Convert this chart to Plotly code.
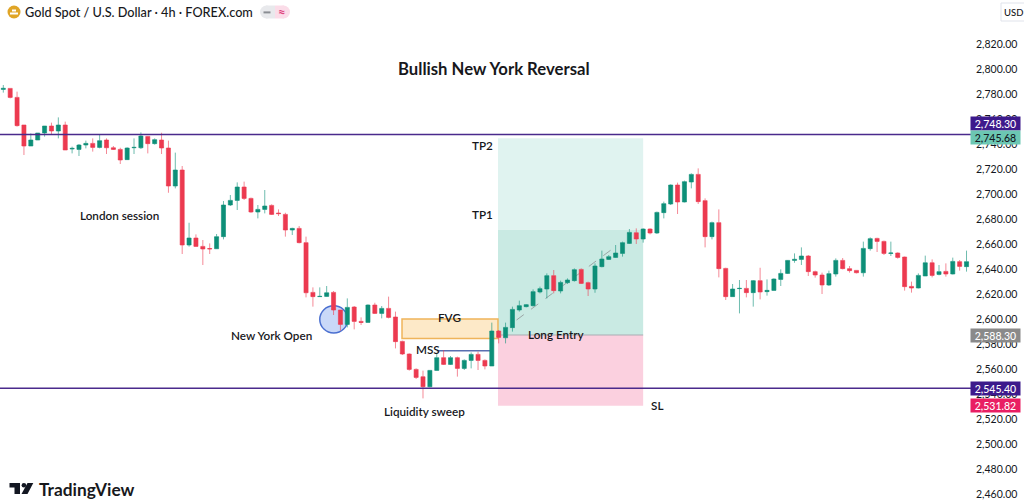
import plotly.graph_objects as go

candle_index = list(range(141))
open_prices = [
 2783.7,2784.5,2777.3,2755.2,2738.4,2743.2,2748.8,2754.4,2750.4,2755.2,
 2736,2735.7,2739.2,2740.5,2737.3,2743.2,2737,2735.7,2727.5,2737,
 2737,2746.1,2740.3,2743.2,2736.8,2706.4,2719.2,2659.2,2664.8,2658.1,
 2656.4,2656.2,2665.9,2691.2,2694.9,2705.6,2696.5,2685.6,2687.7,2690.9,
 2684.8,2683.7,2671.2,2672.5,2661.1,2621.3,2617.9,2618.1,2621.3,2607.2,
 2595.7,2609.6,2598.1,2597.3,2611.2,2604.5,2608.5,2601.6,2582.1,2572,
 2559.7,2553.8,2545.8,2558.9,2569.1,2563.7,2569.1,2560.5,2566.9,2571.7,
 2566.9,2562.4,2590.4,2585,2593.1,2607.2,2609.9,2610.7,2621.6,2624,
 2634.7,2622.4,2629.1,2630.7,2639.7,2629.1,2624,2641.9,2647.7,2649.3,
 2652.5,2660.5,2669,2664,2672,2668.8,2685.1,2692,2707.2,2693.6,
 2709.6,2715.7,2694.7,2665.9,2677.1,2640.5,2617.9,2624.3,2624.5,2621.1,
 2630.7,2621.9,2622.9,2631.7,2636.5,2646.9,2647.7,2650.4,2637.9,2635.2,
 2627.2,2636,2646.9,2640.3,2638.9,2637,2656.3,2664.5,2662.1,2652.5,
 2652.8,2649.6,2626.1,2624.8,2634.4,2645,2635.7,2638.1,2636,2645.9,
 2641.9]
high_prices = [
 2787.2,2784.5,2781.9,2755.2,2748.5,2748.8,2754.4,2757.1,2761.3,2757.9,
 2737.9,2740,2742.7,2744.5,2747.2,2744.5,2738.4,2737,2737.3,2744.5,
 2749.3,2746.4,2744.5,2749,2742.7,2733.1,2722.4,2677,2667.7,2663.2,
 2660.5,2668,2694.4,2699.2,2709.3,2709.9,2697.1,2691.2,2703.2,2691.7,
 2687.7,2685,2673,2674.4,2665.9,2625.3,2625.3,2626.4,2622.4,2607.2,
 2616.5,2610.4,2601.3,2611.7,2613,2610.4,2617.9,2605.9,2582.7,2572.5,
 2560.5,2558.7,2559.2,2572.5,2575.2,2570.4,2569.9,2567.7,2573.3,2573.9,
 2567.7,2597.1,2591.2,2597.1,2609.9,2614.7,2612,2623.7,2625.9,2636.5,
 2639.2,2630.7,2632.5,2640.5,2640.5,2629.9,2644.5,2654.7,2651.2,2659.2,
 2661.9,2672,2672.5,2672.5,2672.5,2685.9,2693.9,2707.7,2709.1,2710.7,
 2716.5,2720.5,2696.5,2677.9,2687.7,2641,2628,2631.2,2631.2,2631.2,
 2641,2631.7,2632.5,2639.7,2647.2,2652.5,2657.3,2651.2,2638.7,2637.1,
 2638.7,2648.5,2648.8,2642.4,2638.9,2661.9,2665.3,2665,2662.7,2661.9,
 2653.3,2649.9,2629.9,2636.5,2650.7,2647.7,2643.2,2644.5,2649.1,2647.2,
 2654.7]
low_prices = [
 2781.1,2776.5,2753.9,2731.2,2738.4,2743.2,2745.9,2747.7,2744.5,2735.2,
 2732.5,2730.4,2736.5,2733.9,2736.5,2732,2735.2,2724,2727.2,2732,
 2736,2732.5,2739.5,2732,2701,2704.5,2652,2657.9,2657.9,2643.2,
 2652,2656,2663.7,2690.4,2687.2,2695.2,2685,2680.5,2684.5,2683.2,
 2682.4,2665.9,2667.2,2660.5,2617.3,2609.9,2617.9,2617.9,2603.2,2590.7,
 2593.3,2591.7,2595.2,2597,2604,2600.5,2600.5,2576.5,2571.2,2558.7,
 2552,2536.5,2545.3,2558.7,2563.2,2563.2,2553.9,2559.2,2560.5,2559.2,
 2559.7,2562.4,2580.5,2580.5,2589.9,2605.9,2609.3,2609.9,2620.5,2616.5,
 2620.5,2620.5,2628,2629.9,2628,2618.4,2621,2641.3,2647.2,2649,
 2649.9,2660,2660,2661.1,2667.7,2668,2680.5,2691.2,2684,2693.3,
 2704.5,2692,2657.3,2663.7,2633.3,2615.2,2617.9,2604.5,2617.3,2609.9,
 2615.7,2618.7,2622.7,2626.4,2636,2645,2643.2,2634.4,2633.1,2620,
 2626.4,2633.9,2639.7,2637.1,2636.5,2633.9,2654.7,2653.6,2651.2,2650.4,
 2648.3,2622.7,2621.1,2624.5,2634.4,2633.3,2634.9,2633.9,2635.7,2638.7,
 2637.9]
close_prices = [
 2784.5,2777.3,2754.7,2738.4,2743.2,2748.8,2754.4,2750.4,2755.2,2735.2,
 2736.5,2739.2,2740.5,2737.3,2742.7,2737,2735.7,2727.2,2736.8,2737.3,
 2746.4,2740.3,2743.5,2736.8,2706.4,2719.2,2659.2,2664.8,2658.1,2656,
 2656.1,2665.9,2691.2,2694.9,2705.6,2696.5,2685.6,2687.7,2690.4,2683.7,
 2684.3,2671.2,2672.5,2661.1,2621,2617.9,2618.1,2621,2607.2,2595.7,
 2609.3,2598.1,2597.3,2611.2,2604.5,2608.5,2601.3,2581.9,2572,2559.7,
 2553.3,2545.8,2558.9,2569.1,2563.7,2569.1,2560.5,2566.9,2571.7,2566.9,
 2562.4,2590.4,2585.3,2593.3,2607.7,2610.7,2611.5,2621.9,2624.3,2634.7,
 2622.7,2629.3,2631.2,2639.5,2628.5,2624,2642.4,2648,2649.9,2652.8,
 2661.1,2669.3,2664,2672,2668.8,2685.3,2692.3,2707.2,2693.6,2709.9,
 2715.7,2693.9,2665.9,2677.1,2640.3,2617.9,2624,2624.5,2621.1,2630.7,
 2621.6,2622.9,2632,2636.5,2646.9,2647.7,2650.4,2637.9,2635.2,2627.2,
 2636.3,2646.9,2640.3,2638.7,2637,2656.5,2664.3,2662.1,2652.5,2652.8,
 2649.3,2625.9,2624.8,2634.9,2645,2634.9,2637.9,2636,2646.1,2642.1,
 2645.9]

tick_values = list(range(2460, 2821, 20))
# levels (drawn lines / zones)
upper_level = 2747.6
lower_level = 2544.6
entry_price = 2587.2
take_profit_1 = 2671.4
take_profit_2 = 2744.6
stop_loss = 2530.6
fvg_top = 2600.0
fvg_bottom = 2584.5
mss_price = 2574.6
zone_start = 71.9
zone_end = 93.0

W, PW = 1024, 971
GREEN = "#0d8f78"
RED = "#ec3a50"
FONT = "Lato"
INK = "#131722"

def px(x):
    return x / PW
def py(y):
    return 1 - y / 500

fig = go.Figure(go.Candlestick(
    x=candle_index, open=open_prices, high=high_prices, low=low_prices, close=close_prices,
    increasing=dict(fillcolor=GREEN, line=dict(color="rgba(13,143,120,0.6)", width=1)),
    decreasing=dict(fillcolor=RED, line=dict(color="rgba(236,58,80,0.6)", width=1)),
    whiskerwidth=0, showlegend=False, hoverinfo="skip"))

shapes = [
    dict(type="rect", x0=zone_start, x1=zone_end, y0=take_profit_1, y1=take_profit_2, fillcolor="#e0f3f0", line_width=0, layer="below"),
    dict(type="rect", x0=zone_start, x1=zone_end, y0=entry_price, y1=take_profit_1, fillcolor="#c9eae3", line_width=0, layer="below"),
    dict(type="rect", x0=zone_start, x1=zone_end, y0=stop_loss, y1=entry_price, fillcolor="#fbd0df", line_width=0, layer="below"),
    dict(type="line", x0=zone_start, x1=zone_end, y0=entry_price, y1=entry_price, line=dict(color="#a9adb3", width=1), layer="below"),
    dict(type="rect", x0=57.95, x1=71.9, y0=fvg_bottom, y1=fvg_top, fillcolor="#fde9c8", line=dict(color="#efb45a", width=1.5), layer="below"),
    dict(type="circle", x0=46.0, x1=50.06, y0=2588.8, y1=2610.6, fillcolor="#c9d8f8", line=dict(color="#4a6fd0", width=1.5), layer="below"),
    dict(type="line", x0=63, x1=71, y0=mss_price, y1=mss_price, line=dict(color="#5a6fb0", width=1.5), layer="below"),
    dict(type="line", x0=74.6, x1=89.3, y0=2599.2, y1=2659.2, line=dict(color="#9aa5a5", width=1, dash="dash"), layer="below"),
    dict(type="line", xref="paper", x0=0, x1=1, y0=upper_level, y1=upper_level, line=dict(color="#4a2a8c", width=1.5)),
    dict(type="line", xref="paper", x0=0, x1=1, y0=lower_level, y1=lower_level, line=dict(color="#4a2a8c", width=1.5)),
    # header symbol
    dict(type="circle", xref="paper", yref="paper", x0=px(7.5), x1=px(20.5), y0=py(18.5), y1=py(5.5), fillcolor="#e0a526", line_width=0),
    dict(type="rect", xref="paper", yref="paper", x0=px(10), x1=px(18), y0=py(14.5), y1=py(12.5), fillcolor="#ffffff", line_width=0),
    dict(type="rect", xref="paper", yref="paper", x0=px(12), x1=px(16), y0=py(11.5), y1=py(9.5), fillcolor="#ffffff", line_width=0),
    # status pill
    dict(type="circle", xref="paper", yref="paper", x0=px(260), x1=px(273), y0=py(18.5), y1=py(5.5), fillcolor="#e8e9ec", line_width=0),
    dict(type="circle", xref="paper", yref="paper", x0=px(277), x1=px(290), y0=py(18.5), y1=py(5.5), fillcolor="#fbdce8", line_width=0),
    dict(type="rect", xref="paper", yref="paper", x0=px(266), x1=px(275), y0=py(18.5), y1=py(5.5), fillcolor="#e8e9ec", line_width=0),
    dict(type="rect", xref="paper", yref="paper", x0=px(275), x1=px(284), y0=py(18.5), y1=py(5.5), fillcolor="#fbdce8", line_width=0),
    dict(type="rect", xref="paper", yref="paper", x0=px(263.5), x1=px(270.5), y0=py(13.4), y1=py(11.4), fillcolor="#8a8d93", line_width=0),
    # USD box
    dict(type="rect", xref="paper", yref="paper", x0=px(1001), x1=px(1027), y0=py(21), y1=py(3), fillcolor="#ffffff", line=dict(color="#e0e3eb", width=1)),
    # TradingView logo
    dict(type="path", xref="paper", yref="paper", line_width=0, fillcolor="#131722",
         path=f"M {px(9.5)} {py(483)} L {px(20)} {py(483)} L {px(20)} {py(494)} L {px(14.5)} {py(494)} L {px(14.5)} {py(487.5)} L {px(9.5)} {py(487.5)} Z"),
    dict(type="circle", xref="paper", yref="paper", x0=px(21.6), x1=px(26.2), y0=py(487.6), y1=py(483), fillcolor="#131722", line_width=0),
    dict(type="path", xref="paper", yref="paper", line_width=0, fillcolor="#131722",
         path=f"M {px(27.5)} {py(483)} L {px(33.3)} {py(483)} L {px(27.5)} {py(494)} L {px(21.5)} {py(494)} Z"),
]

def note(text, x, y, size=11.7, weight=600, color="#17181c"):
    return dict(text=text, xref="paper", yref="paper", x=px(x), y=py(y), xanchor="center", yanchor="middle",
                showarrow=False, font=dict(family=FONT, size=size, color=color, weight=weight))

def tag(text, y, bg):
    return dict(text=text, xref="paper", yref="paper", x=px(995.5), y=py(y), xanchor="center", yanchor="middle",
                showarrow=False, width=49, height=13, bgcolor=bg, borderpad=0,
                font=dict(family=FONT, size=10.5, color="#ffffff", weight=500))

annotations = [
    note("Bullish New York Reversal", 494, 69, size=16.7, weight=700),
    note("London session", 119, 215),
    note("New York Open", 271, 335),
    note("FVG", 449, 317),
    note("MSS", 428, 349),
    note("Long Entry", 556, 334),
    note("Liquidity sweep", 424, 411),
    note("TP2", 482, 145),
    note("TP1", 482, 214),
    note("SL", 657, 405),
    note("Gold Spot / U.S. Dollar · 4h · FOREX.com", 138.5, 12, size=12.7, weight=500),
    note("≈", 282, 12, size=13, weight=700, color="#e0457f"),
    note("USD", 1014, 12, size=9.5, weight=500),
    note("TradingView", 87, 489, size=17.3, weight=700),
    tag("2,748.30", 123, "#3d1a8c"),
    dict(tag("2,745.68", 137.5, "#6cc7b3"), font=dict(family=FONT, size=10.5, color="#131722", weight=500)),
    tag("2,588.30", 335, "#8a8a8a"),
    tag("2,545.40", 388, "#3d1a8c"),
    tag("2,531.82", 405.5, "#e91e63"),
]

fig.update_layout(
    width=W, height=500, margin=dict(l=0, r=W - PW, t=0, b=0, pad=0, autoexpand=False),
    paper_bgcolor="white", plot_bgcolor="white", showlegend=False, boxgap=0.15,
    xaxis=dict(range=[-0.48, 140.65], visible=False, rangeslider=dict(visible=False), fixedrange=True),
    yaxis=dict(range=[2455.2, 2855.2], side="right", tickvals=tick_values, tickformat=",.2f",
               showgrid=False, zeroline=False, showline=False, ticks="", ticklabelstandoff=4,
               tickfont=dict(family=FONT, size=10.5, color=INK), fixedrange=True),
    shapes=shapes, annotations=annotations,
)
fig.write_html("out.html", config=dict(displayModeBar=False),
               post_script="document.body.style.margin='0';document.body.style.overflow='hidden';")
